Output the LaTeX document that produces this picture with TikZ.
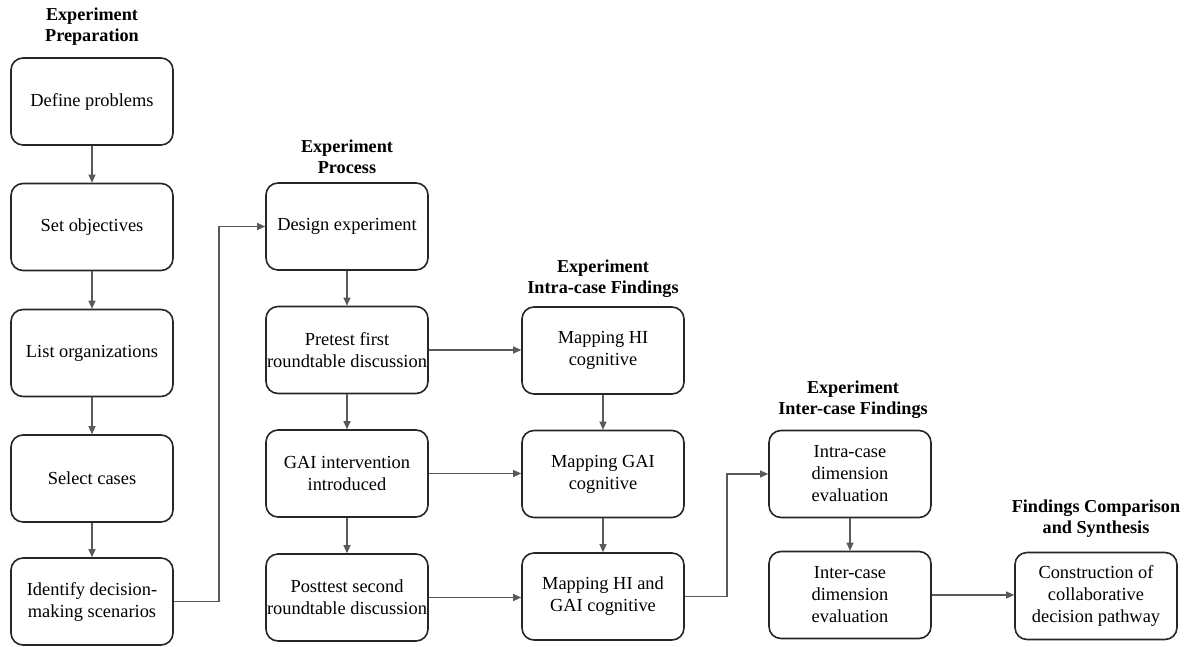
\documentclass[tikz,border=0pt]{standalone}
\usepackage{fontspec}
\setmainfont{Liberation Serif}
\usetikzlibrary{arrows.meta,calc}
\begin{document}
\begin{tikzpicture}[x=1pt,y=-1pt,
 box/.style={draw=black!85, line width=1.6pt, rounded corners=12pt, minimum width=162pt, minimum height=87pt, inner sep=0pt, align=center, font=\fontsize{18.4}{22}\selectfont},
 ttl/.style={align=center, font=\fontsize{18.2}{21}\selectfont\bfseries, inner sep=0pt},
 conn/.style={draw=black!65, line width=1.1pt, -{Triangle[length=8pt,width=7pt]}},
 link/.style={draw=black!65, line width=1.1pt}]
\useasboundingbox (0,0) rectangle (1189,646);

% titles
\node[ttl] (t1) at (92,27) {Experiment\\Preparation};
\node[ttl] (t2) at (347,156.5) {Experiment\\Process};
\node[ttl] (t3) at (603,278.5) {Experiment\\Intra-case Findings};
\node[ttl] (t4) at (853,400) {Experiment\\Inter-case Findings};
\node[ttl] (t5) at (1096,518.5) {Findings Comparison\\and Synthesis};

% column 1
\node[box] (a1) at (92,101.5) {Define problems};
\node[box] (a2) at (92,227) {Set objectives};
\node[box] (a3) at (92,353) {List organizations};
\node[box] (a4) at (92,478.5) {Select cases};
\node[box] (a5) at (92,601.5) {Identify decision-\\making scenarios};

% column 2
\node[box] (b1) at (347,226.5) {Design experiment};
\node[box] (b2) at (347,350) {Pretest first\\roundtable discussion};
\node[box] (b3) at (347,473.5) {GAI intervention\\introduced};
\node[box] (b4) at (347,597.5) {Posttest second\\roundtable discussion};

% column 3
\node[box] (c1) at (603,350.5) {Mapping HI\\cognitive};
\node[box] (c2) at (603,474) {Mapping GAI\\cognitive};
\node[box] (c3) at (603,596.5) {Mapping HI and\\GAI cognitive};

% column 4
\node[box] (d1) at (850,474) {Intra-case\\dimension\\evaluation};
\node[box] (d2) at (850,595) {Inter-case\\dimension\\evaluation};

% column 5
\node[box] (e1) at (1096,596) {Construction of\\collaborative\\decision pathway};

\coordinate (j1) at (219,601.5);
\coordinate (j2) at (727,596.5);

% connectors
\draw[conn] (a1) -- (a2);
\draw[conn] (a2) -- (a3);
\draw[conn] (a3) -- (a4);
\draw[conn] (a4) -- (a5);
\draw[conn] (a5.east) -- (j1) |- (b1.west);

\draw[conn] (b1) -- (b2);
\draw[conn] (b2) -- (b3);
\draw[conn] (b3) -- (b4);

\draw[conn] (b2.east) -- (b2.east -| c1.west);
\draw[conn] (b3.east) -- (b3.east -| c2.west);
\draw[conn] (b4.east) -- (b4.east -| c3.west);

\draw[conn] (c1) -- (c2);
\draw[conn] (c2) -- (c3);

\draw[conn] (c3.east) -- (j2) |- (d1.west);
\draw[conn] (d1) -- (d2);
\draw[conn] (d2.east) -- (d2.east -| e1.west);
\end{tikzpicture}
\end{document}
